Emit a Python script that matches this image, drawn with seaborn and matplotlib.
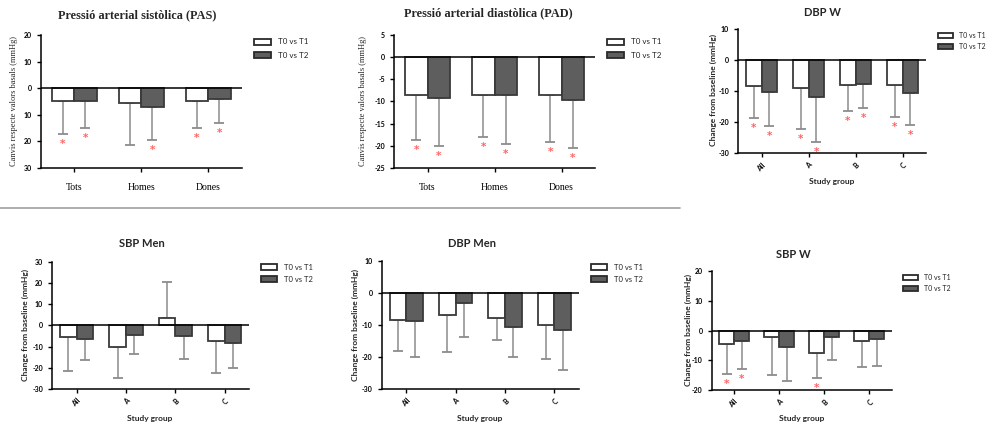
import numpy as np
import pandas as pd
import matplotlib
matplotlib.use("Agg")
import matplotlib.pyplot as plt
import seaborn as sns
from matplotlib.lines import Line2D
from matplotlib.transforms import offset_copy

periods = ["T0 vs T1", "T0 vs T2"]

# Pressió arterial sistòlica (PAS)
pas_groups = ["Tots", "Homes", "Dones"]
pas_t1 = [-4.8, -5.6, -4.9]
pas_t2 = [-5.0, -6.9, -4.1]
pas_t1_sd = [12.5, 15.8, 9.9]
pas_t2_sd = [10.1, 12.5, 8.9]
pas_t1_sig = [True, False, True]
pas_t2_sig = [True, True, True]
pas_ticks = [20, 10, 0, -10, -20, -30]
pas_ticklabels = ["20", "10", "0", "10", "20", "30"]

# Pressió arterial diastòlica (PAD)
pad_groups = ["Tots", "Homes", "Dones"]
pad_t1 = [-8.5, -8.5, -8.55]
pad_t2 = [-9.3, -8.5, -9.75]
pad_t1_sd = [10.25, 9.6, 10.5]
pad_t2_sd = [10.8, 11.0, 10.65]
pad_t1_sig = [True, True, True]
pad_t2_sig = [True, True, True]
pad_ticks = [5, 0, -5, -10, -15, -20, -25]

study_groups = ["All", "A", "B", "C"]

# DBP W
dbpw_t1 = [-8.3, -8.9, -8.2, -8.1]
dbpw_t2 = [-10.2, -11.9, -7.7, -10.6]
dbpw_t1_sd = [10.5, 13.2, 8.2, 10.1]
dbpw_t2_sd = [11.0, 14.5, 7.7, 10.4]
dbpw_t1_sig = [True, True, True, True]
dbpw_t2_sig = [True, True, True, True]

# SBP Men
sbpm_t1 = [-5.65, -10.2, 3.45, -7.5]
sbpm_t2 = [-6.3, -4.4, -5.2, -8.5]
sbpm_t1_sd = [15.75, 14.6, 16.95, 14.9]
sbpm_t2_sd = [10.2, 8.9, 10.8, 11.6]

# DBP Men
dbpm_t1 = [-8.3, -7.0, -7.8, -9.9]
dbpm_t2 = [-8.65, -3.0, -10.5, -11.6]
dbpm_t1_sd = [9.9, 11.4, 6.9, 10.6]
dbpm_t2_sd = [11.25, 10.6, 9.4, 12.4]

# SBP W
sbpw_t1 = [-4.4, -2.35, -7.7, -3.4]
sbpw_t2 = [-3.6, -5.7, -2.35, -3.0]
sbpw_t1_sd = [10.3, 12.65, 8.4, 8.9]
sbpw_t2_sd = [9.3, 11.2, 7.65, 9.1]
sbpw_t1_sig = [True, False, True, False]
sbpw_t2_sig = [True, False, False, False]

no_sig = [False] * 4

sns.set_theme(style="ticks")
SANS = ["Lato", "DejaVu Sans"]
SERIF = ["Liberation Serif", "DejaVu Serif"]
plt.rcParams["font.family"] = SANS

W, H = 989, 428
fig = plt.figure(figsize=(W / 100, H / 100), dpi=100)


def ftext(x, y, s, **kw):
    kw.setdefault("ha", "center")
    kw.setdefault("va", "center")
    return fig.text(x / W, 1 - y / H, s, **kw)


def panel(box, groups, t1, t2, sd1, sd2, sig1, sig2, ylim, yticks,
          yticklabels=None, serif_cats=False, legend_xy=(0, 0),
          legend_fs=5.5, legend_sp=0.8, cap_color="#3a3a3a"):
    l, t, r, b = box
    ax = fig.add_axes([l / W, 1 - b / H, (r - l) / W, (b - t) / H])
    df = pd.DataFrame({
        "group": groups * 2,
        "period": [periods[0]] * len(groups) + [periods[1]] * len(groups),
        "change": list(t1) + list(t2),
    })
    sns.barplot(data=df, x="group", y="change", hue="period",
                palette=["white", "#5e5e5e"], edgecolor="#3a3a3a",
                linewidth=1.3, width=0.67, gap=0, errorbar=None,
                ax=ax, zorder=3)

    # significance marks sit a few pixels below the end of the SD whisker
    star_tr = offset_copy(ax.transData, fig=fig, y=-10, units="dots")
    for cont, vals, sds, sigs in zip(ax.containers, (t1, t2), (sd1, sd2), (sig1, sig2)):
        for p, v, s, g in zip(cont.patches, vals, sds, sigs):
            x = p.get_x() + p.get_width() / 2
            yerr = [[s], [0]] if v < 0 else [[0], [s]]
            _, caps, _ = ax.errorbar([x], [v], yerr=yerr, fmt="none",
                                     ecolor="#8c8c8c", elinewidth=1.1,
                                     capsize=3.5, capthick=1.3, zorder=2)
            for c in caps:
                c.set_color(cap_color)
            if g:
                ax.text(x, v - s, "*", transform=star_tr, color="#ff6464",
                        fontsize=7.5, fontweight="bold", ha="center", va="center",
                        fontfamily="DejaVu Sans")

    ax.axhline(0, color="black", lw=1.1, zorder=4)
    ax.set_xlim(-0.5, len(groups) - 0.5)
    ax.set_ylim(*ylim)
    ax.set_yticks(yticks)
    ax.set_yticklabels(yticklabels if yticklabels else [str(v) for v in yticks],
                       fontsize=5, fontweight="bold")
    ax.set_xlabel("")
    ax.set_ylabel("")
    sns.despine(ax=ax)
    for sp in ("left", "bottom"):
        ax.spines[sp].set_color("black")
        ax.spines[sp].set_linewidth(1.1)
    ax.tick_params(axis="both", direction="out", length=3, width=1, colors="black")
    ax.set_xticks(range(len(groups)))
    if serif_cats:
        ax.set_xticklabels(groups, fontsize=7, fontfamily=SERIF)
        ax.tick_params(axis="x", pad=8)
    else:
        ax.set_xticklabels(groups, fontsize=5, fontweight="bold", rotation=45,
                           ha="right", rotation_mode="anchor")
        ax.tick_params(axis="x", pad=3)

    handles, labels = ax.get_legend_handles_labels()
    leg = ax.legend(handles, labels, loc="upper left",
                    bbox_to_anchor=(legend_xy[0] / W, 1 - legend_xy[1] / H),
                    bbox_transform=fig.transFigure, frameon=False,
                    borderpad=0, borderaxespad=0, handlelength=2.1,
                    handleheight=0.75, handletextpad=0.9,
                    labelspacing=legend_sp, fontsize=legend_fs)
    for h in leg.get_patches():
        h.set_edgecolor("#2a2a2a")
        h.set_linewidth(1.3)
    return ax


# Top row
panel((40.7, 35, 241.7, 168), pas_groups, pas_t1, pas_t2, pas_t1_sd, pas_t2_sd,
      pas_t1_sig, pas_t2_sig, (-30, 20), pas_ticks, pas_ticklabels,
      serif_cats=True, legend_xy=(254, 38.5), legend_fs=5.8, legend_sp=0.75,
      cap_color="#8c8c8c")
ftext(137, 15, "Pressió arterial sistòlica (PAS)", fontsize=8.8, fontweight="bold", fontfamily=SERIF)
ftext(14, 101, "Canvis respecte valors basals (mmHg)", fontsize=6, rotation=90, fontfamily=SERIF)

panel((394, 35, 595, 168), pad_groups, pad_t1, pad_t2, pad_t1_sd, pad_t2_sd,
      pad_t1_sig, pad_t2_sig, (-25, 5), pad_ticks,
      serif_cats=True, legend_xy=(607, 38.5), legend_fs=5.8, legend_sp=0.75,
      cap_color="#8c8c8c")
ftext(488, 13.5, "Pressió arterial diastòlica (PAD)", fontsize=8.8, fontweight="bold", fontfamily=SERIF)
ftext(363, 101, "Canvis respecte valors basals (mmHg)", fontsize=6, rotation=90, fontfamily=SERIF)

panel((738, 28.7, 926, 153.3), study_groups, dbpw_t1, dbpw_t2, dbpw_t1_sd, dbpw_t2_sd,
      dbpw_t1_sig, dbpw_t2_sig, (-30, 10), [10, 0, -10, -20, -30],
      legend_xy=(938, 31.5), legend_fs=5, legend_sp=0.6)
ftext(823, 12, "DBP W", fontsize=8, fontweight="bold")
ftext(713, 90, "Change from baseline (mmHg)", fontsize=6, fontweight="bold", rotation=90)
ftext(832, 181, "Study group", fontsize=6, fontweight="bold")

# Separator between the two rows
fig.add_artist(Line2D([0, 680 / W], [1 - 208 / H] * 2, color="#a0a0a0", lw=1.2))

# Bottom row
panel((52, 261.7, 249.3, 389), study_groups, sbpm_t1, sbpm_t2, sbpm_t1_sd, sbpm_t2_sd,
      no_sig, no_sig, (-30, 30), [30, 20, 10, 0, -10, -20, -30],
      legend_xy=(261, 263.5), legend_fs=5.5, legend_sp=0.7)
ftext(142, 243, "SBP Men", fontsize=8, fontweight="bold")
ftext(25, 325, "Change from baseline (mmHg)", fontsize=6, fontweight="bold", rotation=90)
ftext(150, 418, "Study group", fontsize=6, fontweight="bold")

panel((381.7, 261, 579, 389), study_groups, dbpm_t1, dbpm_t2, dbpm_t1_sd, dbpm_t2_sd,
      no_sig, no_sig, (-30, 10), [10, 0, -10, -20, -30],
      legend_xy=(591, 263.5), legend_fs=5.5, legend_sp=0.7)
ftext(472, 243, "DBP Men", fontsize=8, fontweight="bold")
ftext(355, 325, "Change from baseline (mmHg)", fontsize=6, fontweight="bold", rotation=90)
ftext(480, 418, "Study group", fontsize=6, fontweight="bold")

panel((711.7, 271, 891.7, 390), study_groups, sbpw_t1, sbpw_t2, sbpw_t1_sd, sbpw_t2_sd,
      sbpw_t1_sig, sbpw_t2_sig, (-20, 20), [20, 10, 0, -10, -20],
      legend_xy=(903, 273.5), legend_fs=5, legend_sp=0.6)
ftext(793, 254, "SBP W", fontsize=8, fontweight="bold")
ftext(688, 330, "Change from baseline (mmHg)", fontsize=6, fontweight="bold", rotation=90)
ftext(802, 418, "Study group", fontsize=6, fontweight="bold")

fig.savefig("out.png", dpi=100, facecolor="white")
